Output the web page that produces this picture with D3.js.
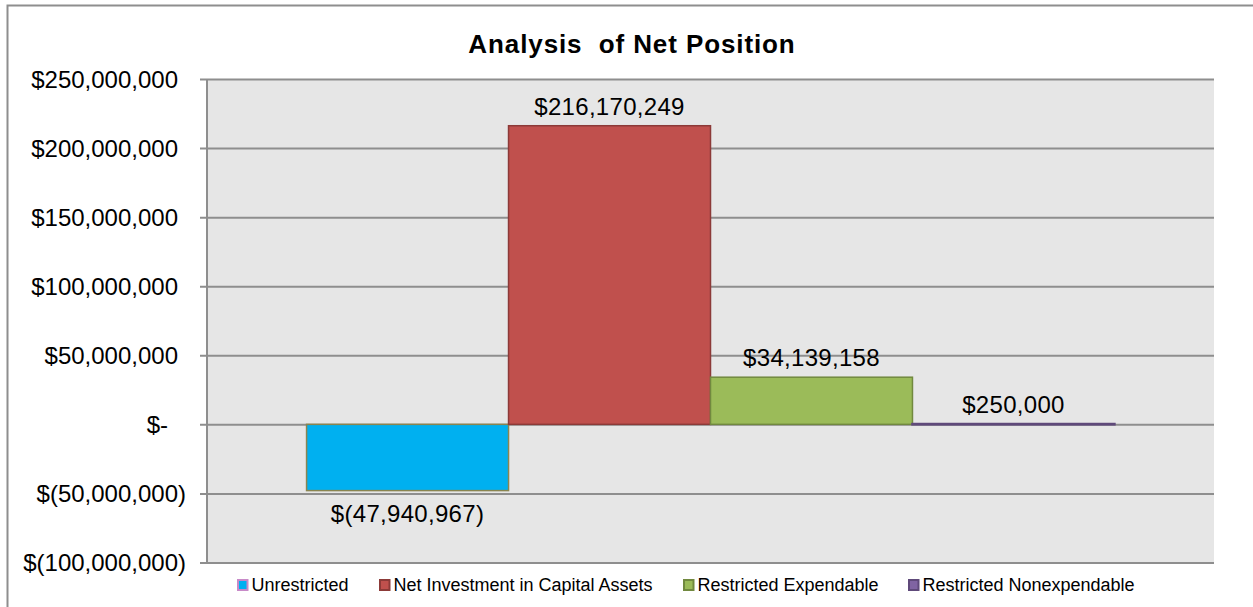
<!DOCTYPE html>
<html>
<head>
<meta charset="utf-8">
<script src="https://cdn.jsdelivr.net/npm/d3@7"></script>
<style>
  html, body { margin: 0; padding: 0; background: #fff; }
  svg { display: block; font-family: "Liberation Sans", Arial, sans-serif; }
</style>
</head>
<body>
<svg id="chart" width="1253" height="607"></svg>
<script>
// ---- data ----
const title = "Analysis  of Net Position";
const seriesNames = ["Unrestricted", "Net Investment in Capital Assets", "Restricted Expendable", "Restricted Nonexpendable"];
const seriesValues = [-47940967, 216170249, 34139158, 250000];
const valueLabels = ["$(47,940,967)", "$216,170,249", "$34,139,158", "$250,000"];
const tickValues = [-100000000, -50000000, 0, 50000000, 100000000, 150000000, 200000000, 250000000];
const tickLabels = ["$(100,000,000)", "$(50,000,000)", "$-", "$50,000,000", "$100,000,000", "$150,000,000", "$200,000,000", "$250,000,000"];
const seriesFill = ["#00b0f0", "#c0504d", "#9bbb59", "#8064a2"];
const seriesStroke = ["#8a8550", "#8c3a38", "#71893f", "#5f497a"];
const legendStroke = ["#c88ac8", "#8c3a38", "#71893f", "#5f497a"];

// ---- layout ----
const svg = d3.select("#chart");
const plot = { left: 207, right: 1214, top: 79, bottom: 562.5 };
const gridColor = "#8e8e8e";

// outer border
svg.append("path")
  .attr("d", "M7.5,620 V5.5 H1260")
  .attr("fill", "none").attr("stroke", "#8e8e8e").attr("stroke-width", 2);

// title
svg.append("text")
  .attr("x", 632).attr("y", 53)
  .attr("text-anchor", "middle")
  .style("white-space", "pre")
  .attr("xml:space", "preserve")
  .attr("font-size", 26).attr("font-weight", "bold")
  .attr("letter-spacing", "0.9px")
  .attr("fill", "#000")
  .text(title);

// plot background
svg.append("rect")
  .attr("x", plot.left).attr("y", plot.top)
  .attr("width", plot.right - plot.left).attr("height", plot.bottom - plot.top)
  .attr("fill", "#e6e6e6");

const y = d3.scaleLinear()
  .domain([d3.min(tickValues), d3.max(tickValues)])
  .range([plot.bottom, plot.top]);

const x0 = d3.scaleBand().domain(["Net Position"]).range([plot.left, plot.right]).padding(0);
const x1 = d3.scaleBand().domain(seriesNames).range([x0("Net Position"), x0("Net Position") + x0.bandwidth()])
  .paddingInner(0).paddingOuter(0.493);

// gridlines (extend 7px left of axis as tick marks)
const gridAxis = d3.axisRight(y).tickValues(tickValues).tickSize(plot.right - plot.left + 7).tickFormat("");
const gg = svg.append("g").attr("transform", `translate(${plot.left - 7},0)`).call(gridAxis);
gg.select(".domain").remove();
gg.selectAll(".tick line").attr("stroke", gridColor).attr("stroke-width", 2);

// vertical axis line
svg.append("line")
  .attr("x1", plot.left).attr("x2", plot.left)
  .attr("y1", plot.top).attr("y2", plot.bottom)
  .attr("stroke", gridColor).attr("stroke-width", 2);

// y labels
const labelAxis = d3.axisLeft(y).tickValues(tickValues).tickSize(0)
  .tickFormat((d, i) => tickLabels[i]);
const la = svg.append("g").attr("transform", `translate(${plot.left},0)`).call(labelAxis);
la.select(".domain").remove();
la.selectAll(".tick text")
  .attr("font-family", "Liberation Sans, Arial, sans-serif")
  .attr("font-size", 24)
  .attr("fill", "#000")
  .attr("x", (d, i) => {
    const s = tickLabels[i];
    if (s.endsWith(")")) return -21;
    if (s === "$-") return -39;
    return -29;
  })
  .attr("dy", "0.35em");

// bars
const bars = svg.append("g");
seriesNames.forEach((name, i) => {
  const v = seriesValues[i];
  bars.append("rect")
    .attr("x", x1(name))
    .attr("y", y(Math.max(0, v)))
    .attr("width", x1.bandwidth())
    .attr("height", Math.abs(y(v) - y(0)))
    .attr("fill", seriesFill[i])
    .attr("stroke", seriesStroke[i])
    .attr("stroke-width", i === 3 ? 2.5 : 1.5);
});

// data labels
seriesNames.forEach((name, i) => {
  const v = seriesValues[i];
  svg.append("text")
    .attr("x", x1(name) + x1.bandwidth() / 2)
    .attr("y", v >= 0 ? y(v) - 11 : y(v) + 31)
    .attr("text-anchor", "middle")
    .attr("font-size", 24)
    .attr("letter-spacing", "0.3px")
    .attr("fill", "#000")
    .text(valueLabels[i]);
});

// legend
const legendX = [237, 379, 683, 908];
const leg = svg.append("g");
seriesNames.forEach((name, i) => {
  const g = leg.append("g").attr("transform", `translate(${legendX[i]},579)`);
  g.append("rect")
    .attr("x", 1).attr("y", 1).attr("width", 9.5).attr("height", 10)
    .attr("fill", seriesFill[i])
    .attr("stroke", legendStroke[i]).attr("stroke-width", 2);
  g.append("text")
    .attr("x", 14.5).attr("y", 11.5)
    .attr("font-size", 18)
    .attr("fill", "#000")
    .text(name);
});
</script>
</body>
</html>
